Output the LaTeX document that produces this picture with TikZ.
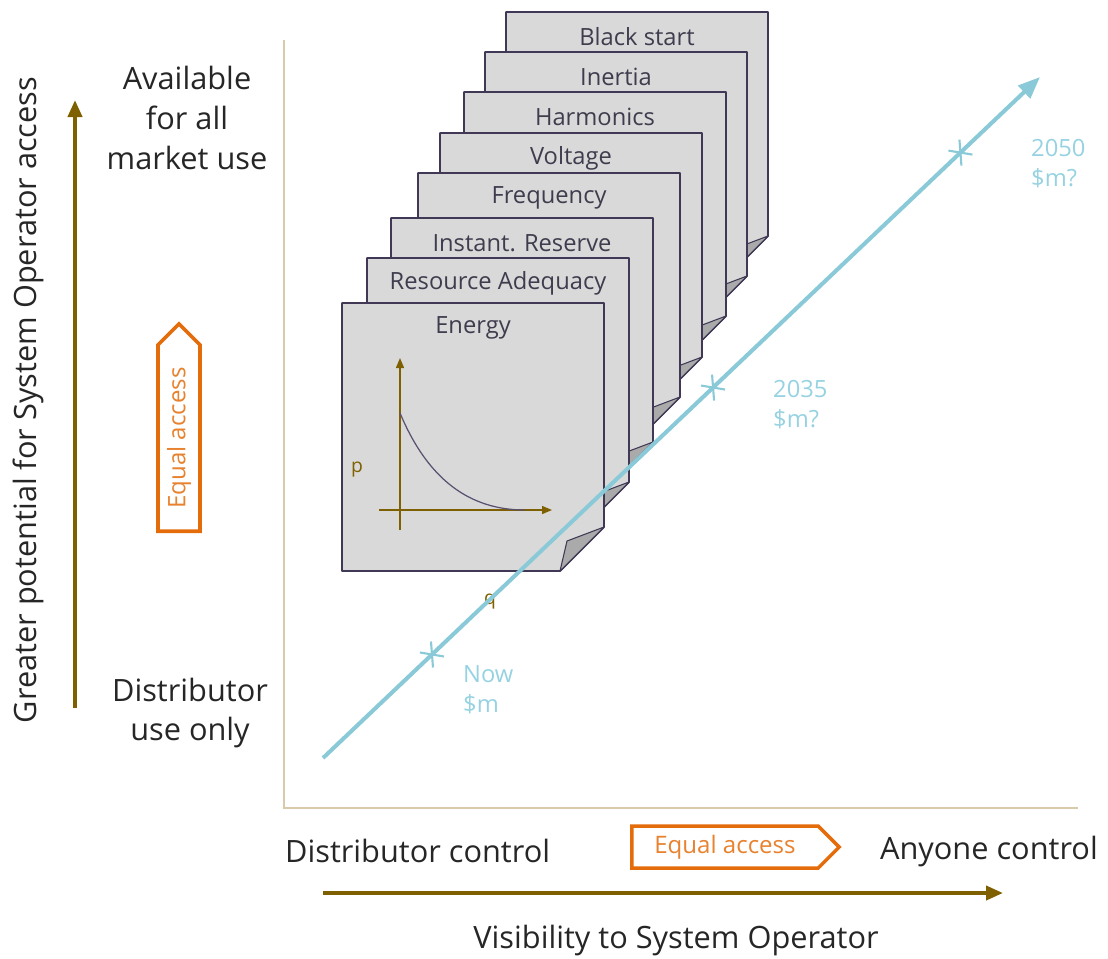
\documentclass[tikz,border=0pt]{standalone}
\usepackage{fontspec}
\setmainfont{Open Sans}
\usepackage{xcolor}
\usepackage{tikz}
\usetikzlibrary{shapes,shapes.symbols,arrows,arrows.meta,positioning,calc}

\definecolor{axisgold}{RGB}{127,96,0}
\definecolor{frametan}{RGB}{216,202,170}
\definecolor{trendblue}{RGB}{138,202,216}
\definecolor{yearblue}{RGB}{150,210,225}
\definecolor{accessorange}{RGB}{228,108,10}
\definecolor{cardgray}{RGB}{217,217,217}
\definecolor{flapgray}{RGB}{170,170,170}
\definecolor{cardedge}{RGB}{64,56,84}
\definecolor{cardtext}{RGB}{64,60,78}
\definecolor{curvepurple}{RGB}{90,80,112}

\begin{document}
\begin{tikzpicture}[x=0.02cm, y=-0.02cm,
    card/.style={draw=cardedge, fill=cardgray, line width=1pt, line join=round},
    flap/.style={draw=cardedge, fill=flapgray, line width=0.6pt, line join=round},
    cardlabel/.style={font=\fontsize{13.5}{16}\selectfont, text=cardtext},
    bigtext/.style={font=\fontsize{17.5}{22.7}\selectfont, text=black!85, align=center},
    yearlabel/.style={font=\fontsize{13.5}{17}\selectfont, text=yearblue, align=left, anchor=west},
    eqaccess/.style={signal, signal to=east, draw=accessorange, line width=2pt, fill=white,
        minimum width=4.15cm, minimum height=0.84cm, inner sep=0pt,
        font=\fontsize{13.7}{15}\selectfont, text=accessorange!85!white},
    bigarrow/.style={-{Triangle[length=3.4mm, width=2.8mm]}, draw=axisgold, line width=2.2pt},
    smallarrow/.style={-{Triangle[length=2mm, width=1.6mm]}, draw=axisgold, line width=0.8pt},
    trend/.style={-{Triangle[length=4.4mm, width=3.4mm]}, draw=trendblue, line width=2.3pt},
    tick/.style={draw=trendblue, line width=1.2pt},
    frame/.style={draw=frametan, line width=1.2pt}
]
\useasboundingbox (0,0) rectangle (1108,958);

% Chart frame
\coordinate (frametop) at (284,40);
\coordinate (origin) at (284,808);
\coordinate (frameright) at (1078,808);
\draw[frame] (frametop) -- (origin) -- (frameright);

% Service cards, back to front
\draw[card] (506,12) -- ++(262,0) -- ++(0,224) -- ++(-44,44) -- ++(-218,0) -- cycle;
\draw[flap] (768,236) -- ++(-44,44) -- ++(7,-30) -- cycle;
\node[cardlabel] (blackstart) at (637,37) {Black start};

\draw[card] (485,52) -- ++(262,0) -- ++(0,224) -- ++(-44,44) -- ++(-218,0) -- cycle;
\draw[flap] (747,276) -- ++(-44,44) -- ++(7,-30) -- cycle;
\node[cardlabel] (inertia) at (616,77) {Inertia};

\draw[card] (464,92) -- ++(262,0) -- ++(0,224) -- ++(-44,44) -- ++(-218,0) -- cycle;
\draw[flap] (726,316) -- ++(-44,44) -- ++(7,-30) -- cycle;
\node[cardlabel] (harmonics) at (595,117) {Harmonics};

\draw[card] (440,133) -- ++(262,0) -- ++(0,224) -- ++(-44,44) -- ++(-218,0) -- cycle;
\draw[flap] (702,357) -- ++(-44,44) -- ++(7,-30) -- cycle;
\node[cardlabel] (voltage) at (571,158) {Voltage};

\draw[card] (418,173) -- ++(262,0) -- ++(0,224) -- ++(-44,44) -- ++(-218,0) -- cycle;
\draw[flap] (680,397) -- ++(-44,44) -- ++(7,-30) -- cycle;
\node[cardlabel] (frequency) at (549,198) {Frequency};

\draw[card] (391,218) -- ++(262,0) -- ++(0,224) -- ++(-44,44) -- ++(-218,0) -- cycle;
\draw[flap] (653,442) -- ++(-44,44) -- ++(7,-30) -- cycle;
\node[cardlabel] (reserve) at (522,243) {Instant. Reserve};

\draw[card] (367,258) -- ++(262,0) -- ++(0,224) -- ++(-44,44) -- ++(-218,0) -- cycle;
\draw[flap] (629,482) -- ++(-44,44) -- ++(7,-30) -- cycle;
\node[cardlabel] (adequacy) at (498,283) {Resource Adequacy};

\draw[card] (342,303) -- ++(262,0) -- ++(0,224) -- ++(-44,44) -- ++(-218,0) -- cycle;
\draw[flap] (604,527) -- ++(-44,44) -- ++(7,-30) -- cycle;
\node[cardlabel] (energy) at (473,328) {Energy};

% Price curve on the energy card
\coordinate (gbottom) at (400,530);
\coordinate (gtop) at (400,358);
\coordinate (gleft) at (379,510);
\coordinate (gright) at (552,510);
\draw[smallarrow] (gbottom) -- (gtop);
\draw[smallarrow] (gleft) -- (gright);
\draw[curvepurple, line width=0.7pt] (400,413) .. controls (428,480) and (470,510) .. (525,510);
\node[font=\fontsize{11}{13}\selectfont, text=axisgold] (plbl) at (357,470) {p};
\node[font=\fontsize{11}{13}\selectfont, text=axisgold] (qlbl) at (490,602) {q};

% Cost trend line
\coordinate (lstart) at (323,758);
\coordinate (lend) at (1040,77);
\draw[trend] (lstart) -- (lend);
\coordinate (now) at ($(lstart)!0.152!(lend)$);
\coordinate (mid) at ($(lstart)!0.544!(lend)$);
\coordinate (far) at ($(lstart)!0.889!(lend)$);
\draw[tick] (now) ++(-12,-2) -- ++(24,4);
\draw[tick] (now) ++(-1,-13) -- ++(2,26);
\draw[tick] (mid) ++(-12,-2) -- ++(24,4);
\draw[tick] (mid) ++(-1,-13) -- ++(2,26);
\draw[tick] (far) ++(-12,-2) -- ++(24,4);
\draw[tick] (far) ++(-1,-13) -- ++(2,26);
\node[yearlabel] (nowlbl) at (457,690) {Now\\\$m};
\node[yearlabel] (midlbl) at (767,405) {2035\\\$m?};
\node[yearlabel] (farlbl) at (1025,164) {2050\\\$m?};

% Axis labels
\node[bigtext] (marketuse) at (187,118) {Available\\for all\\market use};
\node[bigtext] (distuse) at (190,713) {Distributor\\use only};
\node[bigtext, anchor=west] (distctrl) at (279,851) {Distributor control};
\node[bigtext, anchor=east] (anyctrl) at (1104,851) {Anyone control};
\node[bigtext] (visibility) at (676,940) {Visibility to System Operator};
\node[bigtext, rotate=90] (potential) at (28,400) {Greater potential for System Operator access};

% Direction arrows
\coordinate (vbase) at (75,708);
\coordinate (vtip) at (75,100);
\coordinate (hbase) at (323,893);
\coordinate (htip) at (1003,893);
\draw[bigarrow] (vbase) -- (vtip);
\draw[bigarrow] (hbase) -- (htip);

% Equal access
\node[eqaccess] (eqright) at (725,847) {Equal access};
\node[eqaccess, rotate=90] (equp) at (179,438) {Equal access};

\end{tikzpicture}
\end{document}
